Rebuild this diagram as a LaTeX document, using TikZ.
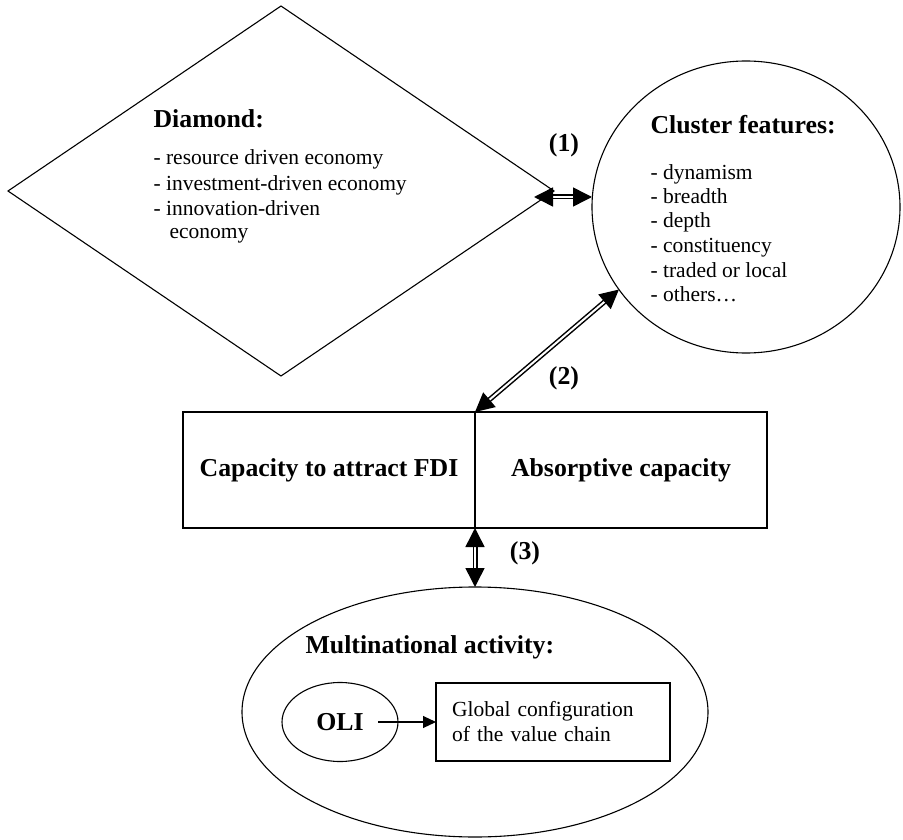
\documentclass[tikz,border=0pt]{standalone}
\usepackage{fontspec}
\setmainfont{Liberation Serif}
\usetikzlibrary{shapes.geometric,arrows.meta,positioning}

\begin{document}
\begin{tikzpicture}[x=1pt, y=-1pt, line width=1.1pt,
  big/.style={font=\fontsize{25.8}{30}\selectfont\bfseries},
  small/.style={font=\fontsize{21.5}{25}\selectfont},
  item/.style={small, anchor=base west, inner sep=0pt},
  head/.style={big, anchor=base west, inner sep=0pt},
  dbl/.style={double, double distance=2pt, line width=1.5pt,
    {Triangle[length=19pt,width=19pt]}-{Triangle[length=19pt,width=19pt]}},
  box/.style={draw, rectangle, minimum width=292pt, minimum height=116pt,
    inner sep=0pt, outer sep=0pt, big}]
\useasboundingbox (0,0) rectangle (903,840);

% diamond
\node[draw, diamond, minimum width=546pt, minimum height=370pt, inner sep=0pt, outer sep=0pt] (dia) at (281,191) {};
\node[head] (diat) at (153,128) {Diamond:};
\node[item] (d1) at (153,165) {- resource driven economy};
\node[item] (d2) at (153,190) {- investment-driven economy};
\node[item] (d3) at (153,215) {- innovation-driven};
\node[item] (d4) at (169,238) {economy};

% cluster
\node[draw, ellipse, minimum width=308pt, minimum height=292pt, inner sep=0pt, outer sep=0pt] (clu) at (746,207) {};
\node[head] (clut) at (650,134) {Cluster features:};
\foreach \t [count=\i] in {dynamism, breadth, depth, constituency, traded or local, others…}
  \node[item] (c\i) at (650,{179+24.5*(\i-1)}) {- \t};

% capacities
\node[box] (fdi) at (329,470) {Capacity to attract FDI};
\node[box, right=0pt of fdi] (abs) {Absorptive capacity};

% multinational activity
\node[draw, ellipse, minimum width=466pt, minimum height=250pt, inner sep=0pt, outer sep=0pt] (mna) at (475,712) {};
\node[head] (mnat) at (305,653) {Multinational activity:};
\node[draw, ellipse, minimum width=116pt, minimum height=79pt, inner sep=0pt, outer sep=0pt, big] (oli) at (340,722) {OLI};
\node[draw, rectangle, minimum width=234pt, minimum height=78pt, text width=202pt, inner xsep=16pt, outer sep=0pt, align=left, small] (gvc) at (553,722) {Global configuration\\of the value chain};

% links
\coordinate (a1) at ([xshift=-20pt,yshift=-6pt]dia.east);
\draw[dbl] (a1) -- (a1 -| clu.west);
\draw[dbl] (fdi.north east) -- (clu.213);
\draw[dbl] (fdi.south east) -- (mna.north);
\draw[-{Triangle[length=13pt,width=12pt]}] ([xshift=-20pt]oli.east) -- (gvc.west);

\node[big] (l1) at (564,145) {(1)};
\node[big] (l2) at (564,378) {(2)};
\node[big] (l3) at (525,553) {(3)};
\end{tikzpicture}
\end{document}
